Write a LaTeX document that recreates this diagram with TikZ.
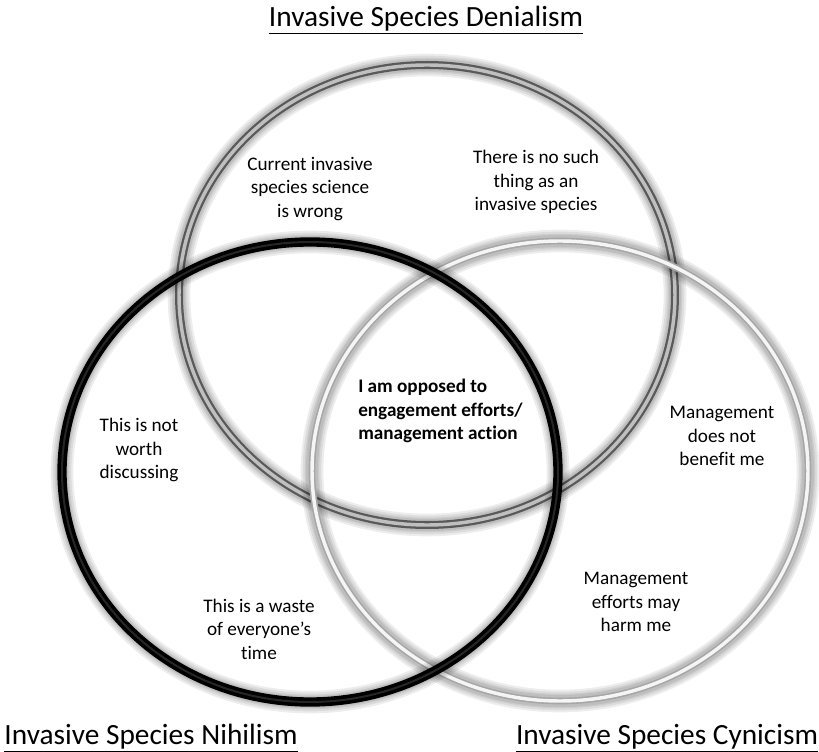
\documentclass[tikz,border=0pt]{standalone}
\usepackage{fontspec}
\setmainfont{Carlito}[Ligatures=NoCommon]

\begin{document}
\begin{tikzpicture}[x=0.75pt,y=-0.75pt,
  lab/.style={align=center,inner sep=0pt,font=\fontsize{14.4}{17.6}\selectfont},
  core/.style={align=left,inner sep=0pt,font=\fontsize{14.4}{17.6}\selectfont\bfseries},
  head/.style={inner sep=0pt,font=\fontsize{22}{26}\selectfont},
  halo/.style={black,opacity=0.07}]
\useasboundingbox (0,0) rectangle (819,752);
% rings: centre / outer width / outer colour / inner width / inner colour
\foreach \cx/\cy/\ow/\oc/\iw/\ic in {427/295/6/gray!70!black/2.6/gray!50,
    560/471/5/gray!70/2.6/gray!8,
    310/472/7/black/1.5/black!85}{
  \foreach \w in {17,14,11,9}{\draw[halo,line width=\w pt] (\cx,\cy) ellipse [x radius=248,y radius=230];};
  \draw[\oc,line width=\ow pt] (\cx,\cy) ellipse [x radius=248,y radius=230];
  \draw[\ic,line width=\iw pt] (\cx,\cy) ellipse [x radius=248,y radius=230];
};
\node[head] (deni) at (426,20) {\underline{Invasive Species Denialism}};
\node[head] (nihi) at (151,738) {\underline{Invasive Species Nihilism}};
\node[head] (cyni) at (667,738) {\underline{Invasive Species Cynicism}};
\node[lab] (sci) at (310,189) {Current invasive\\species science\\is wrong};
\node[lab] (nosuch) at (536,182) {There is no such\\thing as an\\invasive species};
\node[core,anchor=west] (opp) at (358,411) {I am opposed to\\engagement efforts/\\management action};
\node[lab] (worth) at (139,450) {This is not\\worth\\discussing};
\node[lab] (waste) at (259,629) {This is a waste\\of everyone’s\\time};
\node[lab] (benefit) at (722,436) {Management\\does not\\benefit me};
\node[lab] (harm) at (636,602) {Management\\efforts may\\harm me};
\end{tikzpicture}
\end{document}
